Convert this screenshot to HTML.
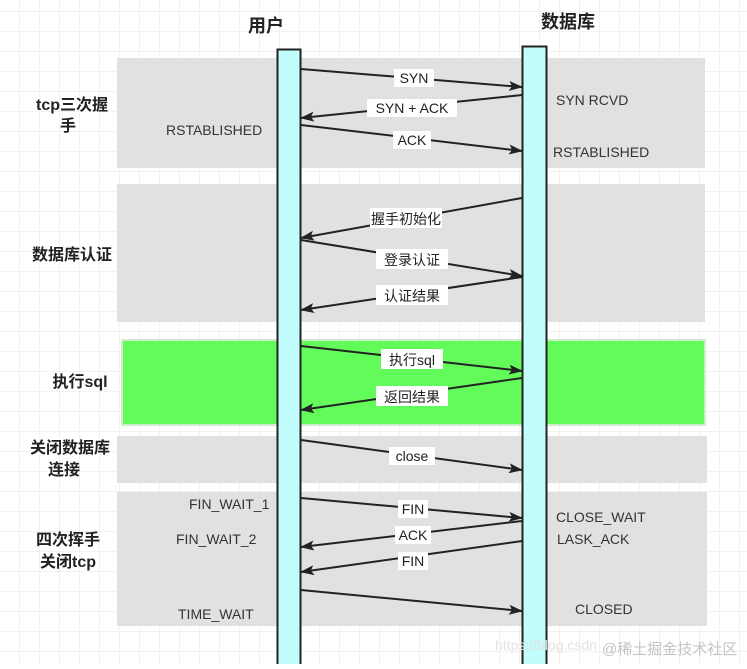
<!DOCTYPE html>
<html><head><meta charset="utf-8"><style>
body{margin:0;width:747px;height:664px;overflow:hidden;background:#fff;font-family:"Liberation Sans","Noto Sans CJK SC",sans-serif}
</style></head><body>
<svg width="747" height="664" xmlns="http://www.w3.org/2000/svg" font-family="Liberation Sans, Noto Sans CJK SC, sans-serif">
<defs>
<pattern id="g" width="20" height="20" patternUnits="userSpaceOnUse" x="0" y="12"><path d="M20 0V20H0" fill="none" stroke="#e6e6e6" stroke-width="1"/></pattern>
<marker id="a" markerWidth="14" markerHeight="10" refX="13" refY="5" orient="auto" markerUnits="userSpaceOnUse"><path d="M0 0L14 5L0 10L3 5z" fill="#222"/></marker>
</defs>
<rect width="747" height="664" fill="url(#g)"/>
<g fill="#e1e1e1">
<rect x="117" y="58" width="588" height="110"/>
<rect x="117" y="184" width="588" height="138"/>
<rect x="117" y="436" width="590" height="47"/>
<rect x="117" y="492" width="590" height="134"/>
</g>
<rect x="122" y="340" width="583" height="85" fill="#63fb5a" stroke="#cfeccc" stroke-width="2"/>
<rect x="277.5" y="49.5" width="23" height="620" fill="#c2fdfd" stroke="#222" stroke-width="2"/>
<rect x="522.5" y="46.5" width="24" height="620" fill="#c2fdfd" stroke="#222" stroke-width="2"/>
<g font-size="18" font-weight="bold" fill="#222" text-anchor="middle">
<text x="266" y="32">用户</text><text x="568" y="28">数据库</text>
<text x="72" y="110" font-size="16">tcp三次握</text><text x="68" y="131" font-size="16">手</text>
<text x="72" y="260" font-size="16">数据库认证</text>
<text x="80" y="387" font-size="16">执行sql</text>
<text x="70" y="453" font-size="16">关闭数据库</text><text x="64" y="475" font-size="16">连接</text>
<text x="68" y="545" font-size="16">四次挥手</text><text x="68" y="567" font-size="16">关闭tcp</text>
</g>
<g stroke="#222" stroke-width="2" marker-end="url(#a)">
<line x1="301" y1="69" x2="522" y2="87"/>
<line x1="522" y1="95" x2="301" y2="118"/>
<line x1="301" y1="125" x2="522" y2="151"/>
<line x1="522" y1="198" x2="301" y2="238"/>
<line x1="301" y1="240" x2="522" y2="276"/>
<line x1="522" y1="277" x2="301" y2="310"/>
<line x1="301" y1="346" x2="522" y2="371"/>
<line x1="522" y1="378" x2="301" y2="410"/>
<line x1="301" y1="440" x2="522" y2="470"/>
<line x1="301" y1="498" x2="522" y2="518"/>
<line x1="522" y1="521" x2="301" y2="547"/>
<line x1="522" y1="541" x2="301" y2="572"/>
<line x1="301" y1="590" x2="522" y2="611"/>
</g>
<g font-size="14" fill="#222" text-anchor="middle">
<g fill="#fff">
<rect x="394" y="69" width="40" height="18"/><rect x="367" y="99" width="90" height="18"/><rect x="393" y="131" width="38" height="18"/>
<rect x="370" y="208" width="72" height="20"/><rect x="376" y="249" width="72" height="20"/><rect x="376" y="285" width="72" height="20"/>
<rect x="381" y="349" width="62" height="20"/><rect x="376" y="386" width="72" height="20"/><rect x="389" y="447" width="46" height="18"/>
<rect x="398" y="500" width="30" height="18"/><rect x="395" y="526" width="36" height="18"/><rect x="398" y="552" width="30" height="18"/>
</g>
<text x="414" y="83">SYN</text><text x="412" y="113">SYN + ACK</text><text x="412" y="145">ACK</text>
<text x="406" y="224">握手初始化</text><text x="412" y="265">登录认证</text><text x="412" y="301">认证结果</text>
<text x="412" y="365">执行sql</text><text x="412" y="402">返回结果</text><text x="412" y="461">close</text>
<text x="413" y="514">FIN</text><text x="413" y="540">ACK</text><text x="413" y="566">FIN</text>
</g>
<g font-size="14" fill="#333">
<text x="166" y="135">RSTABLISHED</text>
<text x="556" y="105">SYN RCVD</text><text x="553" y="157">RSTABLISHED</text>
<text x="189" y="509">FIN_WAIT_1</text><text x="176" y="544">FIN_WAIT_2</text><text x="178" y="619">TIME_WAIT</text>
<text x="556" y="522">CLOSE_WAIT</text><text x="557" y="544">LASK_ACK</text><text x="575" y="614">CLOSED</text>
</g>
<text x="495" y="650" font-size="14" fill="#e2e2e2">https://blog.csdn</text>
<text x="602" y="654" font-size="15" fill="#c4c4c4">@稀土掘金技术社区</text>
</svg>
</body></html>
